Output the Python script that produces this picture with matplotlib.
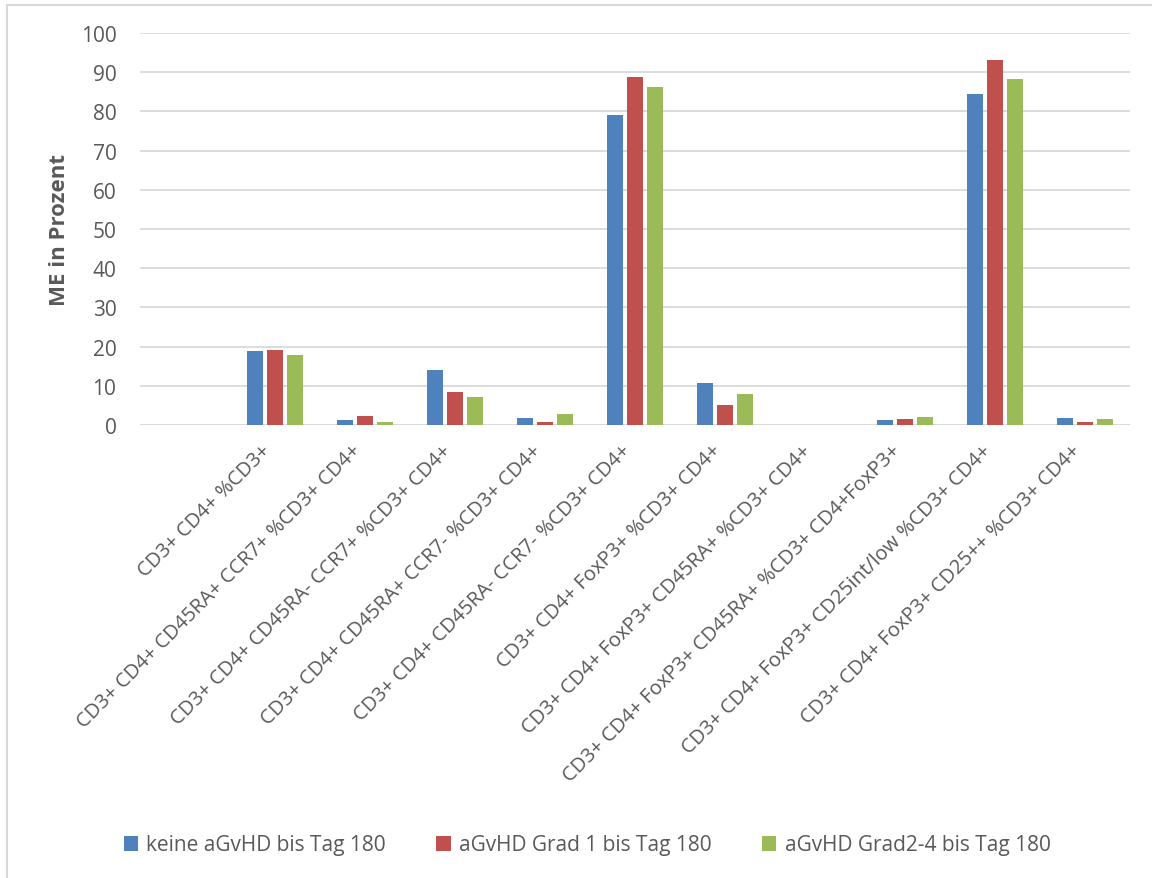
import matplotlib
matplotlib.use("Agg")
import matplotlib.pyplot as plt
import numpy as np
from matplotlib.lines import Line2D

plt.rcParams["font.family"] = ["Open Sans", "DejaVu Sans"]

TEXT = "#595959"
GRID = "#D9D9D9"

categories = [
    "",
    "CD3+ CD4+ %CD3+",
    "CD3+ CD4+ CD45RA+ CCR7+ %CD3+ CD4+",
    "CD3+ CD4+ CD45RA- CCR7+ %CD3+ CD4+",
    "CD3+ CD4+ CD45RA+ CCR7- %CD3+ CD4+",
    "CD3+ CD4+ CD45RA- CCR7- %CD3+ CD4+",
    "CD3+ CD4+ FoxP3+ %CD3+ CD4+",
    "CD3+ CD4+ FoxP3+ CD45RA+ %CD3+ CD4+",
    "CD3+ CD4+ FoxP3+ CD45RA+ %CD3+ CD4+FoxP3+",
    "CD3+ CD4+ FoxP3+ CD25int/low %CD3+ CD4+",
    "CD3+ CD4+ FoxP3+ CD25++ %CD3+ CD4+",
]

series_names = [
    "keine aGvHD bis Tag 180",
    "aGvHD Grad 1 bis Tag 180",
    "aGvHD Grad2-4 bis Tag 180",
]
keine = [0, 18.8, 1.2, 14.0, 1.8, 79.1, 10.8, 0.1, 1.3, 84.4, 1.8]
grad1 = [0, 19.2, 2.4, 8.3, 0.7, 88.9, 5.1, 0.0, 1.5, 93.1, 0.7]
grad24 = [0, 17.8, 0.8, 7.1, 2.7, 86.3, 7.9, 0.1, 2.1, 88.3, 1.5]
colors = ["#4F81BD", "#C0504D", "#9BBB59"]

fig = plt.figure(figsize=(11.52, 8.79), dpi=100)
ax = fig.add_axes([140 / 1152, 1 - 426 / 879, 990 / 1152, 392 / 879])

x = np.arange(len(categories))
step = 20 / 90
width = 16 / 90
for i, (vals, col) in enumerate(zip([keine, grad1, grad24], colors)):
    ax.bar(x + (i - 1) * step, vals, width=width, color=col, zorder=3,
           label=series_names[i])

ax.set_xlim(-0.5, len(categories) - 0.5)
ax.set_ylim(0, 100)
ax.set_yticks(np.arange(0, 101, 10))
ax.yaxis.grid(True, color=GRID, linewidth=1.3, zorder=0)
for s in ax.spines.values():
    s.set_visible(False)
ax.axhline(0, color=GRID, linewidth=1.3, zorder=2)
ax.tick_params(axis="both", length=0, colors=TEXT)
ax.tick_params(axis="y", pad=17, labelsize=15)

ax.set_xticks(x)
ax.set_xticklabels(categories, rotation=45, ha="right", va="top",
                   rotation_mode="default")
ax.tick_params(axis="x", pad=11, labelsize=14.5)

ax.set_ylabel("ME in Prozent", fontsize=16, fontweight="bold", color=TEXT,
              labelpad=8)

leg = fig.legend(loc="center", bbox_to_anchor=(587 / 1152, 1 - 846 / 879),
                 ncol=3, frameon=False, fontsize=15, handlelength=0.7,
                 handleheight=0.7, handletextpad=0.4, columnspacing=2.4,
                 labelcolor=TEXT)

# chart-area border (left and top edges)
fig.add_artist(Line2D([7 / 1152, 7 / 1152], [0, 1 - 5.5 / 879],
                      transform=fig.transFigure, color=GRID, linewidth=1.5))
fig.add_artist(Line2D([7 / 1152, 1], [1 - 5.5 / 879, 1 - 5.5 / 879],
                      transform=fig.transFigure, color=GRID, linewidth=1.5))

fig.savefig("out.png", dpi=100)
